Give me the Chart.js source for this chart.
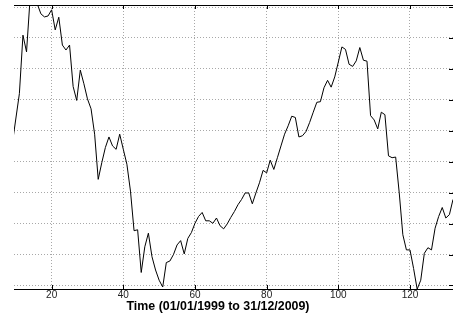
<!DOCTYPE html>
<html>
<head>
<meta charset="utf-8">
<script src="https://cdn.jsdelivr.net/npm/chart.js@4/dist/chart.umd.min.js"></script>
<style>
  html, body { margin: 0; padding: 0; background: #fff; }
  #wrap { width: 453px; height: 318px; }
</style>
</head>
<body>
<div id="wrap"><canvas id="chart"></canvas></div>
<script>
// monthly index of first value shown (partly clipped at left edge)
const firstMonth = 9;
const values = [
    4.56, 5.38, 6.20, 8.09, 7.55, 9.30, 9.35, 9.10, 8.78, 8.68,
    8.71, 8.91, 8.26, 8.67, 7.77, 7.61, 7.77, 6.43, 5.98, 6.96,
    6.52, 6.03, 5.71, 4.89, 3.43, 3.97, 4.46, 4.80, 4.51, 4.40,
    4.89, 4.40, 3.92, 3.05, 1.77, 1.80, 0.42, 1.25, 1.69, 0.93,
    0.50, 0.17, -0.05, 0.74, 0.79, 1.00, 1.31, 1.45, 1.02, 1.52,
    1.71, 2.01, 2.23, 2.36, 2.09, 2.09, 2.01, 2.18, 1.93, 1.83,
    1.99, 2.20, 2.39, 2.61, 2.78, 2.99, 2.99, 2.64, 2.99, 3.32,
    3.72, 3.64, 4.05, 3.75, 4.13, 4.51, 4.89, 5.16, 5.47, 5.43,
    4.80, 4.84, 4.98, 5.27, 5.60, 5.92, 5.94, 6.39, 6.63, 6.41,
    6.74, 7.22, 7.71, 7.63, 7.15, 7.08, 7.26, 7.69, 7.28, 7.25,
    5.49, 5.35, 5.06, 5.60, 5.52, 4.19, 4.13, 4.15, 2.99, 1.64,
    1.15, 1.15, 0.55, -0.12, 0.17, 1.04, 1.22, 1.15, 1.85, 2.23,
    2.52, 2.18, 2.29, 2.78
];
const xTicks = [20, 40, 60, 80, 100, 120];
const xTitle = 'Time (01/01/1999 to 31/12/2009)';

const points = values.map((v, i) => ({ x: firstMonth + i, y: v }));

// matlab style frame: top/bottom lines, inward ticks, offset x label
const frame = {
    id: 'frame',
    afterDraw(chart) {
        const ctx = chart.ctx;
        const a = chart.chartArea;
        const xs = chart.scales.x, ys = chart.scales.y;
        ctx.save();
        ctx.strokeStyle = '#000';
        ctx.lineWidth = 1;
        ctx.beginPath();
        ctx.moveTo(a.left, a.top + 0.5); ctx.lineTo(a.right, a.top + 0.5);
        ctx.moveTo(a.left, a.bottom + 0.5); ctx.lineTo(a.right, a.bottom + 0.5);
        xTicks.forEach(t => {
            const px = Math.round(xs.getPixelForValue(t)) + 0.5;
            ctx.moveTo(px, a.top); ctx.lineTo(px, a.top + 4);
            ctx.moveTo(px, a.bottom); ctx.lineTo(px, a.bottom - 4);
        });
        ys.ticks.forEach(t => {
            const py = Math.round(ys.getPixelForValue(t.value)) + 0.5;
            ctx.moveTo(a.right, py); ctx.lineTo(a.right - 4, py);
        });
        ctx.stroke();
        ctx.fillStyle = '#000';
        ctx.font = 'bold 12.4px "Liberation Sans", Arial, sans-serif';
        ctx.textAlign = 'center';
        ctx.textBaseline = 'middle';
        ctx.fillText(xTitle, 218, 307);
        ctx.restore();
    }
};

new Chart(document.getElementById('chart'), {
    type: 'line',
    data: {
        datasets: [{
            data: points,
            borderColor: '#000',
            borderWidth: 1,
            pointRadius: 0,
            tension: 0,
            fill: false
        }]
    },
    options: {
        responsive: true,
        maintainAspectRatio: false,
        animation: false,
        layout: { padding: { left: 14, top: 5, right: 0, bottom: 17 } },
        plugins: { legend: { display: false }, tooltip: { enabled: false } },
        scales: {
            x: {
                type: 'linear',
                min: 9.5,
                max: 132,
                afterBuildTicks: s => { s.ticks = xTicks.map(v => ({ value: v })); },
                ticks: {
                    color: '#222',
                    padding: 0,
                    maxRotation: 0,
                    font: { family: '"Liberation Sans", Arial, sans-serif', size: 10 }
                },
                grid: { color: '#a8a8a8', drawTicks: false },
                border: { display: false, dash: [1, 2] }
            },
            y: {
                min: -0.114,
                max: 9.065,
                afterBuildTicks: s => {
                    const t = [];
                    for (let v = 0; v <= 9; v++) t.push({ value: v });
                    s.ticks = t;
                },
                ticks: { display: false },
                grid: { color: '#a8a8a8', drawTicks: false },
                border: { display: false, dash: [1, 2] }
            }
        }
    },
    plugins: [frame]
});
</script>
</body>
</html>
